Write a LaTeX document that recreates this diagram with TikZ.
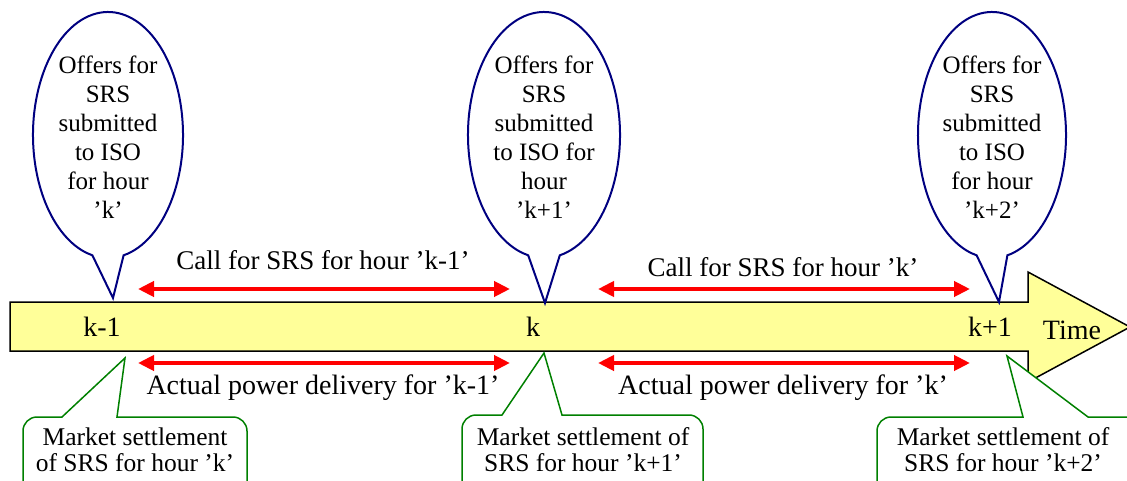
\documentclass[tikz,border=0pt]{standalone}
\usepackage{fontspec}
\setmainfont{Liberation Serif}
\usetikzlibrary{arrows.meta}
\definecolor{tlyellow}{HTML}{FFFF99}
\definecolor{balblue}{HTML}{000080}
\definecolor{setgreen}{HTML}{008000}
\tikzset{
  txt/.style={font=\fontsize{25}{29}\selectfont, align=center, inner sep=0pt},
  ktxt/.style={font=\fontsize{28}{30}\selectfont, inner sep=0pt},
  calltxt/.style={font=\fontsize{27}{30}\selectfont, inner sep=0pt},
  deltxt/.style={font=\fontsize{28}{30}\selectfont, inner sep=0pt},
  gtxt/.style={font=\fontsize{25.5}{26}\selectfont, align=center, inner sep=0pt},
  balloon/.style={draw=balblue, line width=2pt, fill=white},
  settle/.style={draw=setgreen, line width=1.5pt, fill=white},
  span/.style={red, line width=4pt, {Triangle[length=16pt,width=15pt]}-{Triangle[length=16pt,width=15pt]}}
}
\begin{document}
\begin{tikzpicture}[x=1pt,y=1pt]
\useasboundingbox (0,0) rectangle (1127,480);
\clip (0,0) rectangle (1127,480);
% time arrow
\draw[fill=tlyellow, line width=1.5pt] (10,178) -- (1028,178) -- (1028,208) -- (1130,153) -- (1028,98) -- (1028,129) -- (10,129) -- cycle;
\node[ktxt] (km1) at (102,153) {k-1};
\node[ktxt] (k) at (533,153) {k};
\node[ktxt] (kp1) at (990,153) {k+1};
\node[ktxt] (time) at (1072,150) {Time};
% balloons
\draw[balloon] (108,345) ++(-78:75 and 123) arc[start angle=-78, end angle=258, x radius=75, y radius=123] -- (113,182) -- cycle;
\node[txt] (b1) at (108,343) {Offers for\\SRS\\submitted\\to ISO\\for hour\\’k’};
\draw[balloon] (544,345) ++(-78:76 and 123) arc[start angle=-78, end angle=258, x radius=76, y radius=123] -- (545,177) -- cycle;
\node[txt] (b2) at (544,343) {Offers for\\SRS\\submitted\\to ISO for\\hour\\’k+1’};
\draw[balloon] (992,345) ++(-78:74 and 123) arc[start angle=-78, end angle=258, x radius=74, y radius=123] -- (999,178) -- cycle;
\node[txt] (b3) at (992,343) {Offers for\\SRS\\submitted\\to ISO\\for hour\\’k+2’};
% red spans
\coordinate (c1a) at (138,191); \coordinate (c1b) at (510,191);
\coordinate (c2a) at (598,191); \coordinate (c2b) at (970,191);
\coordinate (d1a) at (138,117); \coordinate (d1b) at (510,117);
\coordinate (d2a) at (598,117); \coordinate (d2b) at (970,117);
\draw[span] (c1a) -- (c1b);
\draw[span] (c2a) -- (c2b);
\draw[span] (d1a) -- (d1b);
\draw[span] (d2a) -- (d2b);
\node[calltxt] (call1) at (323,220) {Call for SRS for hour ’k-1’};
\node[calltxt] (call2) at (783,213) {Call for SRS for hour ’k’};
\node[deltxt] (del1) at (323,92) {Actual power delivery for ’k-1’};
\node[deltxt] (del2) at (783,92) {Actual power delivery for ’k’};
% settlement callouts
\draw[settle] (23,-5) -- (23,49) arc[start angle=180, end angle=90, radius=14] -- (62,63) -- (125,122) -- (117,63) -- (233,63) arc[start angle=90, end angle=0, radius=14] -- (247,-5) -- cycle;
\node[gtxt] (s1) at (135,30) {Market settlement\\of SRS for hour ’k’};
\draw[settle] (462,-5) -- (462,51) arc[start angle=180, end angle=90, radius=14] -- (502,65) -- (544,127) -- (562,65) -- (689,65) arc[start angle=90, end angle=0, radius=14] -- (703,-5) -- cycle;
\node[gtxt] (s2) at (583,30) {Market settlement of\\SRS for hour ’k+1’};
\draw[settle] (877,-5) -- (877,49) arc[start angle=180, end angle=90, radius=14] -- (1023,63) -- (1007,124) -- (1088,63) -- (1126,63) arc[start angle=90, end angle=0, radius=14] -- (1140,-5) -- cycle;
\node[gtxt] (s3) at (1003,30) {Market settlement of\\SRS for hour ’k+2’};
\end{tikzpicture}
\end{document}
